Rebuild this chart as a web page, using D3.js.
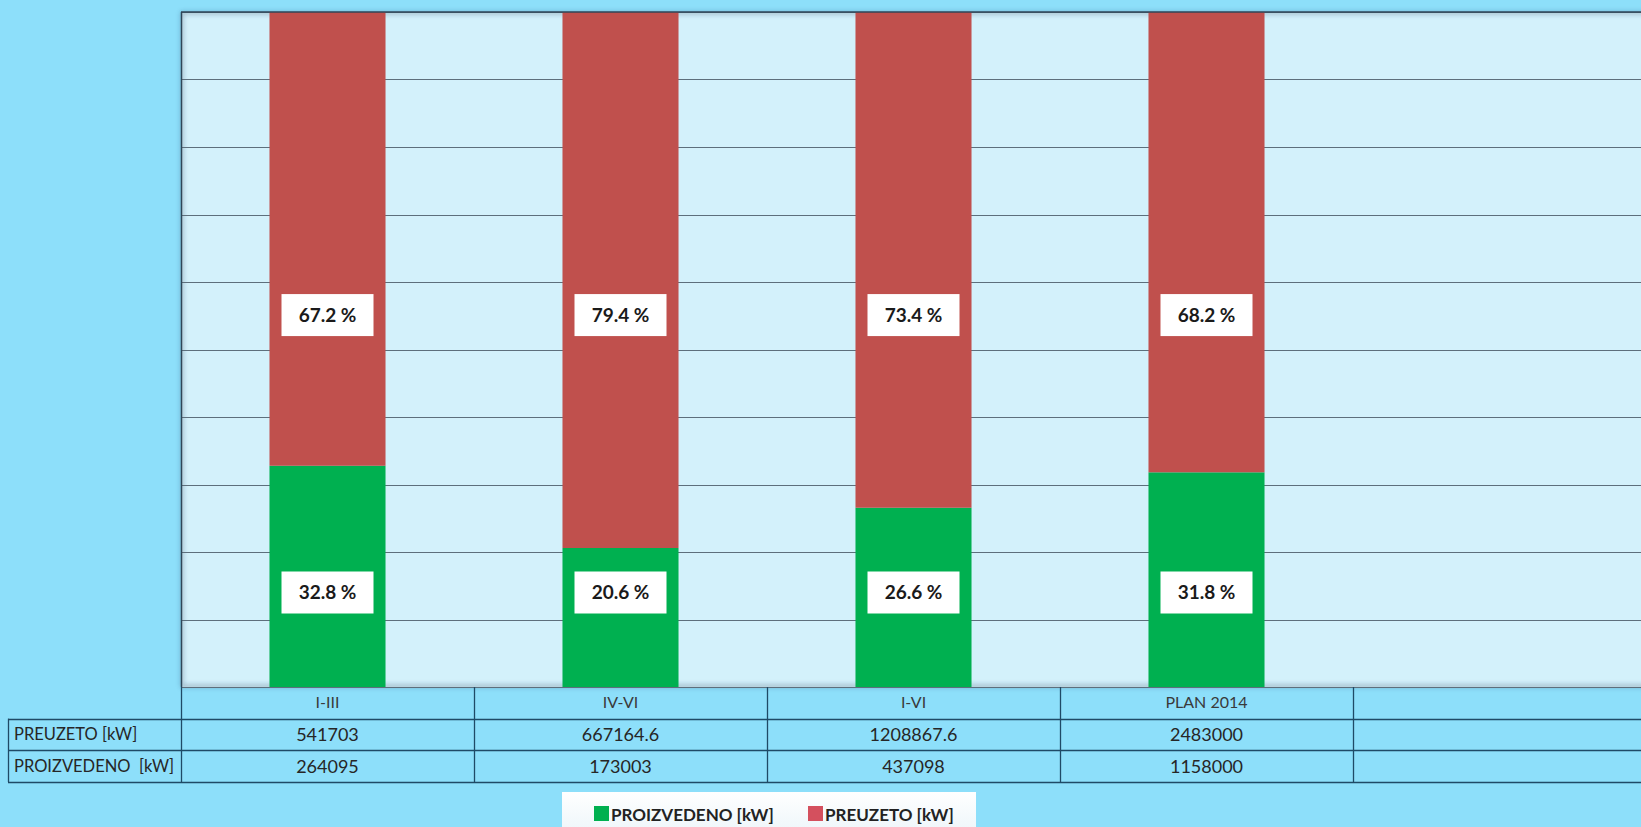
<!DOCTYPE html>
<html>
<head>
<meta charset="utf-8">
<script src="https://cdn.jsdelivr.net/npm/d3@7"></script>
<style>
  html, body { margin: 0; padding: 0; background: #8ddffa; overflow: hidden; }
  svg { display: block; font-family: Lato, "Open Sans", sans-serif; }
  .rowname { white-space: pre; }
</style>
</head>
<body>
<svg id="chart" width="1641" height="827"></svg>
<script>
// chart data
var categories = ["I-III", "IV-VI", "I-VI", "PLAN 2014", ""];
var preuzeto = [541703, 667164.6, 1208867.6, 2483000, null];
var proizvedeno = [264095, 173003, 437098, 1158000, null];
var seriesNames = ["PROIZVEDENO [kW]", "PREUZETO [kW]"];
var rowNames = ["PREUZETO [kW]", "PROIZVEDENO  [kW]"];
var gridTicks = [0, 0.1, 0.2, 0.3, 0.4, 0.5, 0.6, 0.7, 0.8, 0.9, 1];

const GREEN = "#00b050";
const RED = "#c0504d";
const LINE = "#1f4a66";

var svg = d3.select("#chart"),
    width = +svg.attr("width"),
    height = +svg.attr("height");

var plotLeft = 181, plotTop = 12, plotBottom = 687, colStep = 293;

var rows = categories.map(function (c, i) {
    return {cat: c, proizvedeno: proizvedeno[i] || 0, preuzeto: preuzeto[i] || 0};
});

var stack = d3.stack()
    .keys(["proizvedeno", "preuzeto"])
    .offset(d3.stackOffsetExpand);
var layers = stack(rows);

var x = d3.scaleBand()
    .domain(categories)
    .range([plotLeft, plotLeft + colStep * categories.length])
    .padding(0);

var y = d3.scaleLinear().domain([0, 1]).range([plotBottom, plotTop]);

var barW = x.bandwidth() * 0.396;

var defs = svg.append("defs");
var f = defs.append("filter").attr("id", "blur").attr("x", "-5%").attr("y", "-5%").attr("width", "110%").attr("height", "110%");
f.append("feGaussianBlur").attr("stdDeviation", 2);
var lg = defs.append("linearGradient").attr("id", "legbg").attr("x1", 0).attr("y1", 0).attr("x2", 0).attr("y2", 1);
lg.append("stop").attr("offset", "0%").attr("stop-color", "#ffffff");
lg.append("stop").attr("offset", "100%").attr("stop-color", "#eef6fa");

// plot area
svg.append("rect")
    .attr("x", plotLeft).attr("y", plotTop)
    .attr("width", width - plotLeft + 10).attr("height", plotBottom - plotTop)
    .attr("fill", "#d3f1fb");

// soft inner shadow on the frame
svg.append("rect")
    .attr("x", plotLeft + 1).attr("y", plotTop + 1)
    .attr("width", width - plotLeft + 10).attr("height", plotBottom - plotTop - 2)
    .attr("fill", "none")
    .attr("stroke", "rgba(40,60,90,0.35)")
    .attr("stroke-width", 3)
    .attr("filter", "url(#blur)");

// gridlines
svg.append("g")
    .selectAll("line")
    .data(gridTicks)
    .enter().append("line")
    .attr("x1", plotLeft).attr("x2", width)
    .attr("y1", function (d) { return Math.round(y(d)) + 0.5; })
    .attr("y2", function (d) { return Math.round(y(d)) + 0.5; })
    .attr("stroke", "#5d6f7c")
    .attr("stroke-width", 1);

// bars
var colors = {proizvedeno: GREEN, preuzeto: RED};
svg.append("g")
    .selectAll("g")
    .data(layers)
    .enter().append("g")
    .attr("fill", function (d) { return colors[d.key]; })
    .selectAll("rect")
    .data(function (d) { return d.filter(function (p) { return p.data.preuzeto > 0; }); })
    .enter().append("rect")
    .attr("x", function (d) { return x(d.data.cat) + (x.bandwidth() - barW) / 2; })
    .attr("width", barW)
    .attr("y", function (d) { return y(d[1]); })
    .attr("height", function (d) { return y(d[0]) - y(d[1]); });

// frame lines
svg.append("line").attr("x1", plotLeft + 0.5).attr("x2", plotLeft + 0.5)
    .attr("y1", plotTop).attr("y2", plotBottom).attr("stroke", "#2f4658").attr("stroke-width", 1.5);
svg.append("line").attr("x1", plotLeft).attr("x2", width)
    .attr("y1", plotTop).attr("y2", plotTop).attr("stroke", "#2f4658").attr("stroke-width", 1.5);

// percentage labels
var labelData = [];
rows.forEach(function (r) {
    var total = r.proizvedeno + r.preuzeto;
    if (!total) return;
    labelData.push({cat: r.cat, pos: 0.551, text: (r.preuzeto / total * 100).toFixed(1) + " %"});
    labelData.push({cat: r.cat, pos: 0.14, text: (r.proizvedeno / total * 100).toFixed(1) + " %"});
});

var lab = svg.append("g").selectAll("g")
    .data(labelData)
    .enter().append("g")
    .attr("transform", function (d) {
        return "translate(" + (x(d.cat) + x.bandwidth() / 2) + "," + y(d.pos) + ")";
    });
lab.append("rect")
    .attr("x", -46).attr("y", -21).attr("width", 92).attr("height", 42)
    .attr("fill", "#ffffff");
lab.append("text")
    .attr("text-anchor", "middle")
    .attr("dy", "0.35em")
    .attr("font-size", 19)
    .attr("font-weight", "bold")
    .attr("fill", "#1a1a1a")
    .text(function (d) { return d.text; });

// data table under the plot
var tableTop = plotBottom, rowH = 31.7;
var table = svg.append("g");

// horizontal lines
[1, 2, 3].forEach(function (k) {
    var yy = Math.round(tableTop + k * rowH) + 0.5;
    table.append("line")
        .attr("x1", 8).attr("x2", width)
        .attr("y1", yy).attr("y2", yy)
        .attr("stroke", LINE).attr("stroke-width", 1.3);
});
table.append("line")
    .attr("x1", 8.5).attr("x2", 8.5)
    .attr("y1", tableTop + rowH).attr("y2", tableTop + 3 * rowH)
    .attr("stroke", LINE).attr("stroke-width", 1.3);

// column separators
table.selectAll("line.col")
    .data(categories)
    .enter().append("line")
    .attr("class", "col")
    .attr("x1", function (d) { return Math.round(x(d)) + 0.5; })
    .attr("x2", function (d) { return Math.round(x(d)) + 0.5; })
    .attr("y1", tableTop).attr("y2", tableTop + 3 * rowH)
    .attr("stroke", LINE).attr("stroke-width", 1.3);

// category header
table.selectAll("text.cat")
    .data(categories)
    .enter().append("text")
    .attr("class", "cat")
    .attr("x", function (d) { return x(d) + x.bandwidth() / 2; })
    .attr("y", tableTop + rowH / 2)
    .attr("dy", "0.35em")
    .attr("text-anchor", "middle")
    .attr("font-size", 16)
    .attr("fill", "#3a3a3a")
    .text(function (d) { return d; });

// row labels
table.selectAll("text.rowname")
    .data(rowNames)
    .enter().append("text")
    .attr("class", "rowname")
    .attr("x", 14)
    .attr("y", function (d, i) { return tableTop + (i + 1.5) * rowH; })
    .attr("dy", "0.35em")
    .attr("font-size", 16.5)
    .attr("fill", "#262626")
    .text(function (d) { return d; });

// row values
[preuzeto, proizvedeno].forEach(function (vals, i) {
    table.append("g").selectAll("text")
        .data(vals)
        .enter().append("text")
        .attr("x", function (d, j) { return x(categories[j]) + x.bandwidth() / 2; })
        .attr("y", tableTop + (i + 1.5) * rowH)
        .attr("dy", "0.35em")
        .attr("text-anchor", "middle")
        .attr("font-size", 18)
        .attr("fill", "#262626")
        .text(function (d) { return d == null ? "" : String(d); });
});

// legend
var legend = svg.append("g");
legend.append("rect")
    .attr("x", 562).attr("y", 792).attr("width", 414).attr("height", 40)
    .attr("fill", "url(#legbg)");
var legColors = [GREEN, "#d4505e"];
var legX = [594, 808];
seriesNames.forEach(function (name, i) {
    legend.append("rect")
        .attr("x", legX[i]).attr("y", 806).attr("width", 15).attr("height", 15)
        .attr("fill", legColors[i]);
    legend.append("text")
        .attr("x", legX[i] + 17).attr("y", 821)
        .attr("font-size", 17)
        .attr("font-weight", "bold")
        .attr("fill", "#222")
        .text(name);
});
</script>
</body>
</html>
